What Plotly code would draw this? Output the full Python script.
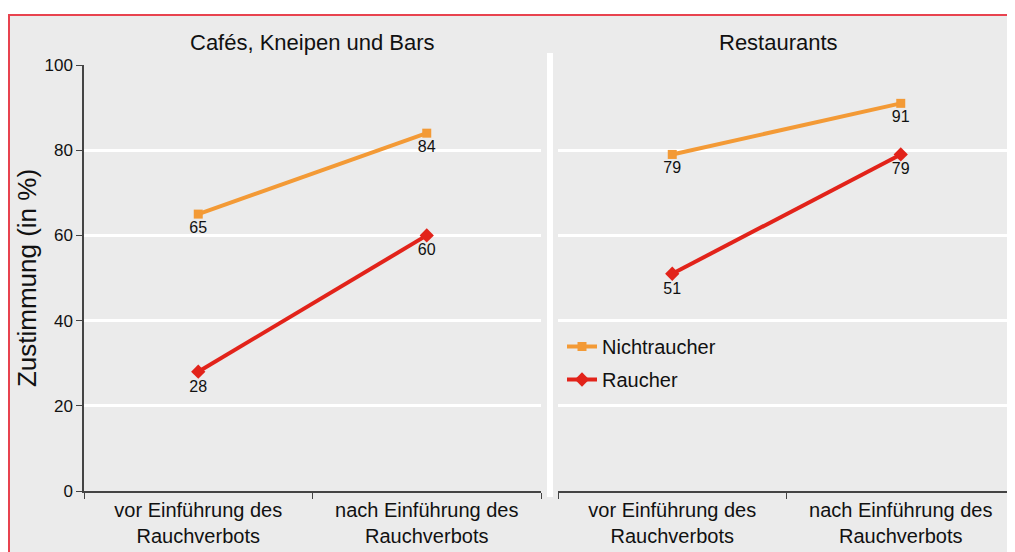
import plotly.graph_objects as go

categories = ["vor Einführung des<br>Rauchverbots", "nach Einführung des<br>Rauchverbots"]
panels = ["Cafés, Kneipen und Bars", "Restaurants"]
nichtraucher_cafes = [65, 84]
raucher_cafes = [28, 60]
nichtraucher_rest = [79, 91]
raucher_rest = [51, 79]
y_ticks = [0, 20, 40, 60, 80, 100]

ORANGE = "#f39a36"
RED = "#e2231a"
BORDER = "#e8434f"
BG = "#ebebeb"
FONT = "Liberation Sans, Arial, sans-serif"
TXT = "#111111"

# page body adds an 8px offset; figure sized to fill the remaining window
OFF = 8
W, H = 1015 - OFF, 552 - OFF
ML, MR, MT, MB = 76, 0, 57, 61
PW = W - ML - MR
PH = H - MT - MB


def px_x(sx):
    return (sx - OFF - ML) / PW


def px_y(sy):
    return (H - MB - (sy - OFF)) / PH


fig = go.Figure()

series = [
    ("Nichtraucher", nichtraucher_cafes, ORANGE, "square", 9, "x", "y", True),
    ("Raucher", raucher_cafes, RED, "diamond", 11, "x", "y", True),
    ("Nichtraucher", nichtraucher_rest, ORANGE, "square", 9, "x2", "y2", False),
    ("Raucher", raucher_rest, RED, "diamond", 11, "x2", "y2", False),
]
for name, vals, col, sym, size, xa, ya, show in series:
    fig.add_trace(go.Scatter(
        x=categories, y=vals, name=name, xaxis=xa, yaxis=ya,
        mode="lines+markers+text",
        line=dict(color=col, width=4),
        marker=dict(color=col, symbol=sym, size=size),
        text=[str(v) for v in vals], textposition="bottom center",
        textfont=dict(family=FONT, size=16, color=TXT),
        showlegend=show, legendgroup=name, cliponaxis=False,
    ))

d1 = px_x(541)
d2 = px_x(558)

common_x = dict(
    type="category", range=[-0.5, 1.5], showline=True, linecolor="#444444", linewidth=1.5,
    ticks="outside", ticklen=6, tickcolor="#444444", tickson="boundaries",
    showgrid=False, zeroline=False,
    tickfont=dict(family=FONT, size=20, color=TXT),
)
fig.update_layout(
    xaxis=dict(domain=[0, d1], anchor="y", **common_x),
    xaxis2=dict(domain=[d2, 1], anchor="y2", **common_x),
    yaxis=dict(
        domain=[0, 1], range=[0, 100], tickvals=y_ticks, anchor="x",
        showline=True, linecolor="#444444", linewidth=1.5,
        ticks="outside", ticklen=6, tickcolor="#444444",
        showgrid=True, gridcolor="white", gridwidth=3, zeroline=False,
        tickfont=dict(family=FONT, size=17, color=TXT),
        title=dict(text="Zustimmung (in %)", font=dict(family=FONT, size=26, color=TXT), standoff=0),
    ),
    yaxis2=dict(
        domain=[0, 1], range=[0, 100], tickvals=y_ticks, anchor="x2",
        showline=False, showticklabels=False, ticks="",
        showgrid=True, gridcolor="white", gridwidth=3, zeroline=False,
    ),
    width=W, height=H,
    margin=dict(l=ML, r=MR, t=MT, b=MB),
    paper_bgcolor="white",
    plot_bgcolor="rgba(0,0,0,0)",
    font=dict(family=FONT, color=TXT),
    legend=dict(
        x=px_x(562), y=px_y(327), xanchor="left", yanchor="top",
        bgcolor="rgba(0,0,0,0)", font=dict(family=FONT, size=20, color=TXT),
        traceorder="grouped", tracegroupgap=4,
    ),
    shapes=[
        # grey panel background
        dict(type="rect", xref="paper", yref="paper",
             x0=px_x(8), x1=px_x(1100), y0=px_y(640), y1=px_y(15),
             fillcolor=BG, line=dict(width=0), layer="below"),
        # red frame: top and left edges
        dict(type="line", xref="paper", yref="paper",
             x0=px_x(8), x1=px_x(1100), y0=px_y(15), y1=px_y(15),
             line=dict(color=BORDER, width=2), layer="below"),
        dict(type="line", xref="paper", yref="paper",
             x0=px_x(9), x1=px_x(9), y0=px_y(640), y1=px_y(15),
             line=dict(color=BORDER, width=2), layer="below"),
        # white separator between panels
        dict(type="rect", xref="paper", yref="paper",
             x0=px_x(547), x1=px_x(553), y0=px_y(497), y1=px_y(53),
             fillcolor="white", line=dict(width=0), layer="below"),
    ],
    annotations=[
        dict(text=panels[0], xref="paper", yref="paper", x=px_x(312), y=px_y(43),
             showarrow=False, font=dict(family=FONT, size=22, color=TXT),
             xanchor="center", yanchor="middle"),
        dict(text=panels[1], xref="paper", yref="paper", x=px_x(778), y=px_y(43),
             showarrow=False, font=dict(family=FONT, size=22, color=TXT),
             xanchor="center", yanchor="middle"),
    ],
)

fig.write_html("out.html")
